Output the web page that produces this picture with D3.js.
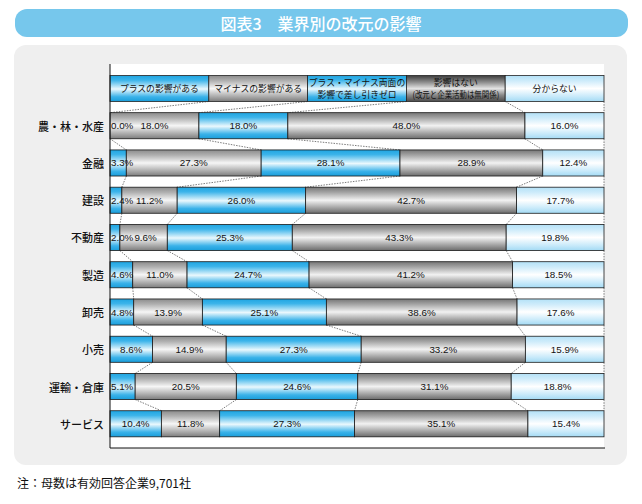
<!DOCTYPE html>
<html><head><meta charset="utf-8">
<script src="https://cdn.jsdelivr.net/npm/d3@7"></script>
<style>
html,body{margin:0;padding:0;background:#fff;}
svg{display:block;}
</style></head>
<body>
<svg id="chart" width="642" height="504"></svg>
<script>
const title = "図表3　業界別の改元の影響";
const note = "注：母数は有効回答企業9,701社";
const categories = ["農・林・水産","金融","建設","不動産","製造","卸売","小売","運輸・倉庫","サービス"];
const seriesKeys = ["plus","minus","both","none","unknown"];
const seriesLabels = [
  ["プラスの影響がある"],
  ["マイナスの影響がある"],
  ["プラス・マイナス両面の","影響で差し引きゼロ"],
  ["影響はない","(改元と企業活動は無関係)"],
  ["分からない"]
];
const plus    = [0.0, 3.3, 2.4, 2.0, 4.6, 4.8, 8.6, 5.1, 10.4];
const minus   = [18.0,27.3,11.2, 9.6,11.0,13.9,14.9,20.5,11.8];
const both    = [18.0,28.1,26.0,25.3,24.7,25.1,27.3,24.6,27.3];
const none    = [48.0,28.9,42.7,43.3,41.2,38.6,33.2,31.1,35.1];
const unknown = [16.0,12.4,17.7,19.8,18.5,17.6,15.9,18.8,15.4];

(function(){
const seriesValues = [plus, minus, both, none, unknown];
const rows = categories.map((c,i)=>{
  const vals = seriesValues.map(s=>s[i]);
  let cum = 0;
  const segs = vals.map((v,k)=>{ const s={key:seriesKeys[k], v, x0:cum, x1:cum+v}; cum+=v; return s; });
  return {cat:c, segs, total:cum};
});

const svg = d3.select("#chart");
const defs = svg.append("defs");
function grad(id, stops){
  const g = defs.append("linearGradient").attr("id",id).attr("x1",0).attr("y1",0).attr("x2",0).attr("y2",1);
  stops.forEach(([o,c])=>g.append("stop").attr("offset",o).attr("stop-color",c));
}
grad("g-plus",   [[0,"#1fa5e1"],[0.18,"#3cb4ea"],[0.52,"#eaf8fd"],[0.82,"#3ab2e9"],[1,"#199dda"]]);
grad("g-minus",  [[0,"#8c8c8c"],[0.2,"#b0b0b0"],[0.5,"#f6f6f6"],[0.8,"#adadad"],[1,"#7c7c7c"]]);
grad("g-both",   [[0,"#1fa5e1"],[0.18,"#3cb4ea"],[0.52,"#eaf8fd"],[0.82,"#3ab2e9"],[1,"#199dda"]]);
grad("g-none",   [[0,"#767676"],[0.2,"#a4a4a4"],[0.5,"#f2f2f2"],[0.8,"#a0a0a0"],[1,"#6c6c6c"]]);
grad("g-unknown",[[0,"#b3e1f7"],[0.2,"#cdebfa"],[0.5,"#ffffff"],[0.8,"#c9eafa"],[1,"#a3daf4"]]);
grad("gl-none",  [[0,"#3c3c3c"],[0.25,"#8a8a8a"],[0.5,"#e2e2e2"],[0.75,"#8a8a8a"],[1,"#4a4a4a"]]);
const fillOf = k => `url(#g-${k})`;
const legendFill = k => k==="none" ? "url(#gl-none)" : fillOf(k);

// title banner
svg.append("rect").attr("x",15).attr("y",9).attr("width",613).attr("height",28).attr("rx",12).attr("fill","#76c7ec");
svg.append("text").attr("x",321).attr("y",23).attr("text-anchor","middle").attr("dominant-baseline","central")
  .attr("font-family","'Noto Sans CJK JP',sans-serif").attr("font-size",16).attr("font-weight","500")
  .attr("fill","#fff").text(title);

// gray panel
svg.append("rect").attr("x",14).attr("y",45).attr("width",613).attr("height",420).attr("rx",12).attr("fill","#efefef");

// plot area
const pLeft=110, pRight=604, pTop=64, pBottom=448, legTop=75.5, legBot=101.5;
svg.append("rect").attr("x",pLeft).attr("y",pTop).attr("width",pRight-pLeft).attr("height",pBottom-pTop).attr("fill","#fff");

const y = d3.scaleBand().domain(categories).range([legBot,pBottom]).paddingInner(0.3).paddingOuter(0.3);
const bh = y.bandwidth();
const legendX = d3.scaleBand().domain(seriesKeys).range([pLeft,pRight]);

// connectors
const conn = svg.append("g").attr("stroke","#444").attr("stroke-width",0.7).attr("stroke-dasharray","1.5,1.2").attr("fill","none");
rows.forEach((r,i)=>{
  const xs = d3.scaleLinear().domain([0,r.total]).range([pLeft,pRight]);
  const bounds = [0, ...r.segs.map(s=>s.x1)];
  let prevXs, prevY;
  if(i===0){
    prevXs = seriesKeys.map(k=>legendX(k)).concat([pRight]);
    prevY = legBot;
  } else {
    const pr = rows[i-1];
    const px = d3.scaleLinear().domain([0,pr.total]).range([pLeft,pRight]);
    prevXs = [0, ...pr.segs.map(s=>s.x1)].map(px);
    prevY = y(pr.cat)+bh;
  }
  bounds.forEach((b,k)=>{
    if(k===0) return;
    conn.append("line").attr("x1",prevXs[k]).attr("y1",prevY).attr("x2",xs(b)).attr("y2",y(r.cat));
  });
});

// legend
const lg = svg.append("g");
seriesKeys.forEach((k,i)=>{
  const x0 = legendX(k), w = legendX.bandwidth();
  lg.append("rect").attr("x",x0).attr("y",legTop).attr("width",w).attr("height",legBot-legTop)
    .attr("fill",legendFill(k)).attr("stroke","#222").attr("stroke-width",0.8);
  const lines = seriesLabels[i];
  lines.forEach((t,j)=>{
    const cy = (legTop+legBot)/2 + (lines.length===1?0:(j===0?-6:6));
    const tx = lg.append("text").attr("x",x0+w/2).attr("y",cy).attr("text-anchor","middle").attr("dominant-baseline","central")
      .attr("font-family","'Noto Sans CJK JP',sans-serif").attr("font-size",8.8).attr("fill","#111").text(t);
    if(t.length>11){ tx.attr("textLength",w-12).attr("lengthAdjust","spacingAndGlyphs"); }
  });
});

// bars
const bars = svg.append("g");
rows.forEach(r=>{
  const xs = d3.scaleLinear().domain([0,r.total]).range([pLeft,pRight]);
  const yy = y(r.cat);
  let prevRight = -Infinity;
  r.segs.forEach(s=>{
    const w = xs(s.x1)-xs(s.x0);
    bars.append("rect").attr("x",xs(s.x0)).attr("y",yy).attr("width",Math.max(0,w)).attr("height",bh)
      .attr("fill",fillOf(s.key)).attr("stroke","#1a1a1a").attr("stroke-width",0.8);
  });
  r.segs.forEach(s=>{
    const label = s.v.toFixed(1)+"%";
    const approxW = label.length*5.1;
    let cx, anchor="middle";
    const mid = (xs(s.x0)+xs(s.x1))/2;
    if(s.v < 6){ cx = xs(s.x0)+1; anchor="start"; prevRight = cx+approxW; }
    else { cx = Math.max(mid, prevRight+4+approxW/2); prevRight = cx+approxW/2; }
    bars.append("text").attr("x",cx).attr("y",yy+bh/2).attr("text-anchor",anchor).attr("dominant-baseline","central")
      .attr("font-family","'Liberation Sans',Arial,sans-serif").attr("font-size",9.8).attr("fill","#111").text(label);
  });
});

// category labels
svg.append("g").selectAll("text").data(categories).join("text")
  .attr("x",104).attr("y",d=>y(d)+bh/2).attr("text-anchor","end").attr("dominant-baseline","central")
  .attr("font-family","'Noto Sans CJK JP',sans-serif").attr("font-size",11).attr("font-weight","500").attr("fill","#111")
  .text(d=>d);

// axes lines
svg.append("line").attr("x1",pLeft).attr("x2",pLeft).attr("y1",pTop).attr("y2",pBottom).attr("stroke","#111").attr("stroke-width",1);
svg.append("line").attr("x1",pLeft).attr("x2",pRight+1).attr("y1",pBottom).attr("y2",pBottom).attr("stroke","#111").attr("stroke-width",1);

// note
svg.append("text").attr("x",17).attr("y",482).attr("dominant-baseline","central")
  .attr("font-family","'Noto Sans CJK JP',sans-serif").attr("font-size",12).attr("fill","#111").text(note);
})();
</script>
</body></html>
